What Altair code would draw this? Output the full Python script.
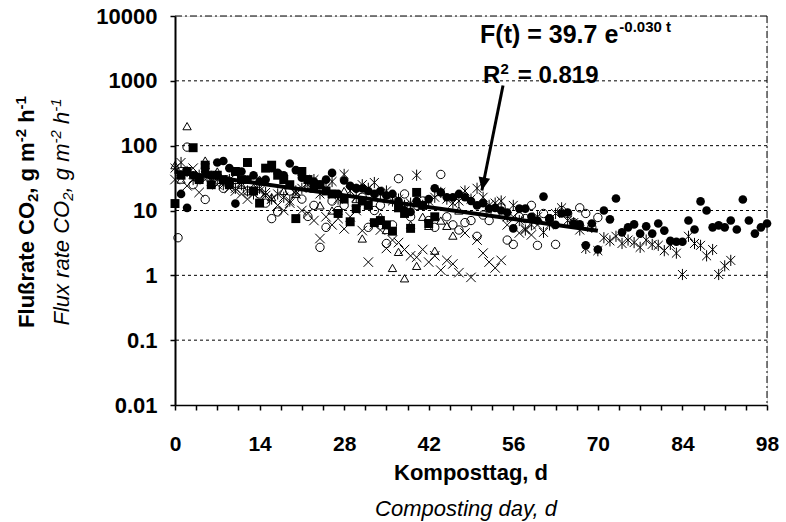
import altair as alt
import pandas as pd

# ---------------- data ----------------
fc_days = [1,2,3,5,6,7,8,9,10,11,12,13,14,15,16,17,18,19,20,21,22,23,24,25,26,27,28,29,30,
           31,32,33,34,35,36,37,38,39,40,41,42,43,44,45,46,47,48,49,50,51,52,53,54,55,56,57,58,59,60,
           61,62,63,64,65,66,67,68,69,70,71,72,73,74,75,76,77,78,79,80,81,82,83,84,85,86,87,88,89,90,
           91,92,93,94,95,96,97,98]
fc_vals = [18,11,35,40,35,55,58,45,12.8,40,30,35,28,30,45,38,35,53,42,32,30,28,25,30,38,18,29,24,22,
           22,20,18,20,17,18,14,10,9.5,14,12,15,22,19,16,16,18,16,14,12,13,10.7,11,10,9.3,5.3,10.7,10.7,8,7,
           16.4,7.5,6,9,9.3,6.3,6.1,2.9,6.3,2.5,10,7.3,15.3,4.6,5.5,6.1,4.4,5.7,4.4,6.3,4.9,3.4,3.3,3.3,7.0,5.1,13.8,10,5.5,5.9,
           5.5,7.0,5.1,14.8,7.0,4.4,5.5,6.3]

sq_days = [0,1,2,3,4,5,6,7,8,9,10,11,12,13,14,15,16,17,18,19,20,21,22,23,24,25,26,27,28,29,30,
           31,32,33,34,35,36,37,38,39,40,41,42,43]
sq_vals = [12.8,35,40,93,30,50,25,35,30,25,40,30,55,20,13,45,50,35,30,25,7.5,40,30,22,25,20,18,9,15,6.7,10.7,
           14,12,6.5,7.0,6.0,4.8,11,9,5.3,19,12,6.3,8]

oc_days = [0.5,1,2,3,4,5,6,8,10,12,14,15,16,17,19,21,22,23,24,25,26,27,28,30,31,32,33,34,35,36,37,38,39,40,
           41,42,43,44,45,46,47,48,49,50,51,52,53,54,55,56,57,58,59,60,61,62,63,64,65,66,67,68,69,70]
oc_vals = [3.8,40,95,25,30,14.8,35,22,30,20,18,13,7.5,9.5,20,15,8.1,12,2.7,5.5,14,10,12,22,16,5.5,10,12,3.1,6,31,18,8,12,
           14,7,5.5,36,8,6,5,6.5,7,4,8.5,7,9,11,3.5,3,8,7.5,12,2.9,9,7.5,3.0,10,9,6.5,11,9,5.5,7.8]

x_days = [0,1,2,3,4,5,6,7,8,9,10,11,12,13,14,15,16,17,18,19,20,21,22,23,24,25,26,27,28,29,30,
          31,32,33,34,35,36,37,38,39,40,41,42,43,44,45,46,47,48,49,50,51,52,53,54,55,56,57,58,59,60]
x_vals = [30,40,24,45,19,30,35,25,28,22,20,18,15,25,20,17,15,12,10,13,18,10,9,7,3.7,8,6,7.5,5.2,8,10,
          4.9,1.6,6,5,2.6,3.5,3.2,2.5,2.0,1.9,2.5,1.6,2.0,1.2,1.7,1.5,1.1,4.5,0.93,3.5,2.2,1.6,1.3,1.7,6,8,4.5,5.2,4.2,6]

ast_days = [0,1,2,3,4,5,6,7,8,9,10,11,12,13,14,15,16,17,18,19,20,21,22,23,24,25,26,27,28,29,30,
            31,32,33,34,35,36,37,38,39,40,41,42,43,44,45,46,47,48,49,50,51,52,53,54,55,56,57,58,59,60,
            61,62,63,64,65,66,67,68,69,70,71,72,73,74,75,76,77,78,79,80,81,82,83,84,85,86,87,88,89,90,91,92]
ast_vals = [45,55,40,30,35,38,28,30,25,30,22,25,20,18,22,19,15,18,16,14,20,22,25,30,18,22,28,15,36,20,16,
            25,22,27,18,20,14,15,12,13,35,12,14,16,19,15,13,14,20,15,22,16,12,13,14,8,12,7,5,6,8,
            4.6,6,9,11,7,6.5,5,2.6,5.5,2.4,3.8,3.4,4.0,3.1,3.5,3.2,2.7,3.5,3.0,2.9,2.4,3.0,2.2,1.03,4.0,3.1,2.9,2.0,2.5,1.03,1.4,1.7]

tri_days = [0,1,2,3,5,7,9,11,13,14,16,18,20,22,24,26,28,30,31,32,34,35,36,37,38,39,40,41,42,43,44,45,46,47]
tri_vals = [50,30,200,35,59,40,30,25,35,30,16,20,18,25,12,10,20,15,3.7,12,8,5,1.3,2.3,0.9,6,1.4,8,5.8,2.4,7,5.8,4.1,10]

fit_days = [0, 70]
fit_vals = [39.7, 4.86]

grid_vals = [0.1, 1, 10, 100, 1000]
y_ticks = [0.01, 0.1, 1, 10, 100, 1000, 10000]
x_ticks = [i * 3.5 for i in range(29)]

arrow_start = (54.3, 849)
arrow_tip = (50.8, 20.4)
eq_anchor = (50.5, 3776)
r2_anchor = (51.0, 912)

FONT = "Liberation Sans"

# Arial-compatible advance widths (per em) for text layout of titles
W_BOLD = {" ": .278, ",": .278, "-": .333, "=": .584, "(": .333, ")": .333, ".": .278,
          "C": .722, "F": .611, "O": .778, "R": .722, "a": .556, "d": .611, "e": .556, "g": .611,
          "h": .611, "l": .278, "m": .889, "r": .389, "t": .333, "u": .611, "ß": .611}
W_REG = {" ": .278, ",": .278, "-": .333, "C": .722, "F": .611, "O": .778, "a": .556, "d": .556,
         "e": .556, "g": .556, "h": .556, "l": .222, "m": .833, "r": .333, "t": .278, "u": .556,
         "x": .5}


def tw(s, size, bold):
    tbl = W_BOLD if bold else W_REG
    return sum(tbl.get(c, .556) for c in s) * size


xs = alt.Scale(domain=[0, 98], nice=False, zero=False)
ys = alt.Scale(type="log", domain=[0.01, 10000], nice=False)

XAX = alt.Axis(
    values=x_ticks, title=None, grid=False, domainColor="black", domainWidth=1.5,
    tickColor="black", tickWidth=1.5, tickSize=5,
    labelExpr="datum.value % 14 == 0 ? datum.value : ''",
    labelFont=FONT, labelFontSize=21, labelFontWeight="bold", labelColor="black",
    labelPadding=23, labelFlush=False, labelOverlap=False)
YAX = alt.Axis(
    values=y_ticks, title=None, grid=False, domainColor="black", domainWidth=2,
    tickColor="black", tickWidth=1.5, tickSize=5, format="~g",
    labelFont=FONT, labelFontSize=22, labelFontWeight="bold", labelColor="black",
    labelPadding=13, labelFlush=False, labelOverlap=False)


def X(f):
    return alt.X(f, scale=xs, axis=XAX)


def Y(f):
    return alt.Y(f, scale=ys, axis=YAX)


def df(d, v):
    return pd.DataFrame({"day": d, "flux": v})


def pts(d, v, **kw):
    return alt.Chart(df(d, v)).mark_point(opacity=1, **kw).encode(x=X("day:Q"), y=Y("flux:Q"))


grid = alt.Chart(pd.DataFrame({"flux": grid_vals})).mark_rule(
    color="black", strokeWidth=1, strokeDash=[3, 3]).encode(y=Y("flux:Q"))
top = alt.Chart(pd.DataFrame({"flux": [10000]})).mark_rule(
    color="black", strokeWidth=1, strokeDash=[7, 3, 2, 3]).encode(y=Y("flux:Q"))
right = alt.Chart(pd.DataFrame({"day": [98]})).mark_rule(
    color="black", strokeWidth=1, strokeDash=[7, 3, 2, 3]).encode(x=X("day:Q"))

CROSS = "M-1,-1L1,1M1,-1L-1,1"
AST = "M-1,-1L1,1M1,-1L-1,1M0,-1.25L0,1.25"

oc = pts(oc_days, oc_vals, shape="circle", filled=False, color="black", strokeWidth=1, size=70)
tri = pts(tri_days, tri_vals, shape="triangle-up", filled=False, color="black", strokeWidth=1, size=70)
xx = pts(x_days, x_vals, shape=CROSS, filled=False, color="black", strokeWidth=1, size=90)
ast = pts(ast_days, ast_vals, shape=AST, filled=False, color="black", strokeWidth=1, size=80)
sq = pts(sq_days, sq_vals, shape="square", filled=True, color="black", size=80)
fc = pts(fc_days, fc_vals, shape="circle", filled=True, color="black", size=75)

fit = alt.Chart(df(fit_days, fit_vals)).mark_line(color="black", strokeWidth=4).encode(
    x=X("day:Q"), y=Y("flux:Q"))

arrow_df = pd.DataFrame({"day": [arrow_start[0]], "flux": [arrow_start[1]],
                         "day2": [arrow_tip[0]], "flux2": [arrow_tip[1]]})
shaft = alt.Chart(arrow_df).mark_rule(color="black", strokeWidth=3).encode(
    x=X("day:Q"), y=Y("flux:Q"), x2="day2:Q", y2="flux2:Q")
head = alt.Chart(arrow_df).mark_point(
    shape="M0,0L-0.45,-1L0.45,-1Z", filled=True, color="black", opacity=1, size=676, angle=11).encode(
    x=X("day2:Q"), y=Y("flux2:Q"))

# annotation text pieces (anchored in data space, offset in pixels)
ANN = 25
SUP = 15


def ann(anchor, txt, size, dx=0, dy=0):
    d = pd.DataFrame({"day": [anchor[0]], "flux": [anchor[1]], "txt": [txt]})
    return alt.Chart(d).mark_text(
        font=FONT, fontWeight="bold", fontSize=size, align="left", baseline="alphabetic",
        color="black", dx=dx, dy=dy).encode(x=X("day:Q"), y=Y("flux:Q"), text="txt:N")


w_eq = tw("F(t) = 39.7 e", ANN, True)
w_r = tw("R", 24, True)
eq1 = ann(eq_anchor, "F(t) = 39.7 e", ANN)
eq2 = ann(eq_anchor, "-0.030 t", SUP, dx=w_eq + 1, dy=-11)
r1 = ann(r2_anchor, "R", 24)
r2 = ann(r2_anchor, "2", SUP, dx=w_r, dy=-9)
r3 = ann(r2_anchor, "= 0.819", 24, dx=w_r + 9 + 0.556 * SUP)

one = pd.DataFrame({"a": [0]})
xt1 = alt.Chart(one).mark_text(font=FONT, fontWeight="bold", fontSize=22, color="black",
                               align="center", baseline="middle", text="Komposttag, d").encode(
    x=alt.value(296), y=alt.value(457))
xt2 = alt.Chart(one).mark_text(font=FONT, fontStyle="italic", fontSize=22, color="black",
                               align="center", baseline="middle", text="Composting day, d").encode(
    x=alt.value(291), y=alt.value(493))


def vtitle(pieces, base_x, center_y, bold):
    """Rotated (bottom-to-top) title made of normal / sub / superscript pieces."""
    total = sum(tw(t, s, bold) for t, s, _ in pieces)
    y = center_y + total / 2
    layers = []
    for t, s, shift in pieces:
        lead = len(t) - len(t.lstrip(" "))
        y -= tw(" " * lead, s, bold)
        body = t.lstrip(" ")
        kw = dict(font=FONT, fontSize=s, color="black", angle=270, align="left",
                  baseline="alphabetic", text=body)
        if bold:
            kw["fontWeight"] = "bold"
        else:
            kw["fontStyle"] = "italic"
        layers.append(alt.Chart(one).mark_text(**kw).encode(
            x=alt.value(base_x + shift), y=alt.value(y)))
        y -= tw(body, s, bold)
    return layers


yt1 = vtitle([("Flußrate CO", 22, 0), ("2", 15, 4), (", g m", 22, 0), ("-2", 15, -8),
              (" h", 22, 0), ("-1", 15, -8)], -141, 196, True)
yt2 = vtitle([("Flux rate CO", 22, 0), ("2", 15, 4), (", g m", 22, 0), ("-2", 15, -8),
              (" h", 22, 0), ("-1", 15, -8)], -106, 196, False)

chart = alt.layer(
    grid, top, right, oc, tri, xx, ast, sq, fc, fit, shaft, head,
    eq1, eq2, r1, r2, r3, xt1, xt2, *yt1, *yt2
).properties(
    width=592, height=389,
    autosize=alt.AutoSizeParams(type="none"),
    padding={"left": 175, "top": 16, "right": 19, "bottom": 117},
).configure_view(stroke=None).configure(background="white")

chart.save("out.html", embed_options={"renderer": "svg", "actions": False})
